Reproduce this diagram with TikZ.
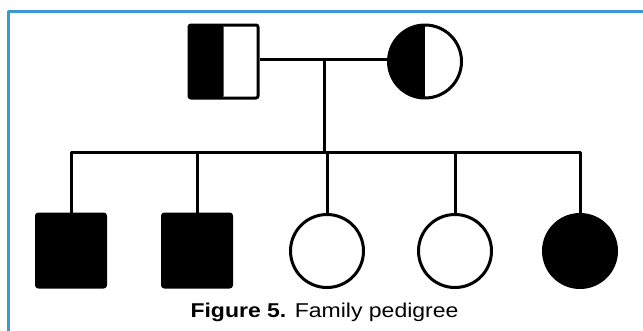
\documentclass[tikz,border=0pt]{standalone}
\usepackage{fontspec}
\setmainfont{Liberation Sans}
\usepackage{xcolor}
\usetikzlibrary{shapes}
\definecolor{framecol}{HTML}{3C9AD2}

\begin{document}
\begin{tikzpicture}[line join=round,line width=3bp,
		male/.style={draw,rectangle,rounded corners=2bp,minimum width=69bp,minimum height=73bp,inner sep=0pt},
		female/.style={draw,circle,minimum size=73bp,inner sep=0pt},
		affected/.style={fill=black},
		carrier/.style={path picture={\fill (path picture bounding box.south west) rectangle (path picture bounding box.north);}}]
		%%
		\useasboundingbox (0bp,0bp) rectangle (643bp,-331bp);
		\draw [framecol] (8bp,-335bp) |- (648bp,-11bp);
		%% parents
		\node (father) at (223.5bp,-61.5bp) [male,carrier] {};
		  \node (mother) at (425bp,-61.5bp) [female,carrier] {};
		  \coordinate (mate) at (324bp,-59bp);
		  \coordinate (sib) at (324bp,-152bp);
		%% children
		\node (c1) at (71bp,-250.5bp) [male,affected] {};
		  \node (c2) at (197bp,-250.5bp) [male,affected] {};
		  \node (c3) at (327bp,-251bp) [female] {};
		  \node (c4) at (455bp,-251bp) [female] {};
		  \node (c5) at (580bp,-251bp) [female,affected] {};
		%% lines
		\draw (father.east |- mate) -- (mother.west |- mate);
		  \draw (mate) -- (sib);
		  \draw (c1) |- (sib) -| (c5);
		  \draw (c2) -- (c2 |- sib);
		  \draw (c3) -- (c3 |- sib);
		  \draw (c4) -- (c4 |- sib);
		%
		\node (caption) at (324.5bp,-317bp) [anchor=base,inner sep=0pt,font=\fontsize{20bp}{24bp}\selectfont] {\scalebox{1.15}[1]{\textbf{Figure 5.} Family pedigree}};
	\end{tikzpicture}
\end{document}
